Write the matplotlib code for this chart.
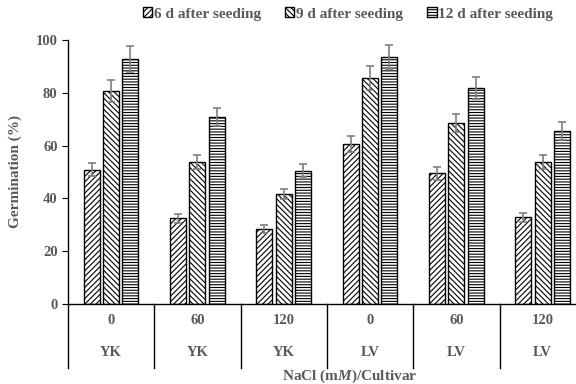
import matplotlib
matplotlib.use("Agg")
import matplotlib.pyplot as plt
import matplotlib.transforms as mtransforms
import numpy as np

plt.rcParams["font.family"] = ["Liberation Serif", "DejaVu Serif"]
plt.rcParams["font.weight"] = "bold"
plt.rcParams["axes.labelweight"] = "bold"
plt.rcParams["hatch.linewidth"] = 0.8
plt.rcParams["mathtext.fontset"] = "custom"
plt.rcParams["mathtext.it"] = "Liberation Serif:italic:bold"
plt.rcParams["mathtext.rm"] = "Liberation Serif:bold"

nacl = ["0", "60", "120", "0", "60", "120"]
cultivar = ["YK", "YK", "YK", "LV", "LV", "LV"]
series = ["6 d after seeding", "9 d after seeding", "12 d after seeding"]

d6 = [50.8, 32.5, 28.4, 60.7, 49.5, 32.8]
d9 = [80.7, 53.8, 41.5, 85.7, 68.6, 53.8]
d12 = [92.8, 70.8, 50.5, 93.7, 81.8, 65.6]
e6 = [2.5, 1.7, 1.4, 3.0, 2.5, 1.8]
e9 = [4.0, 2.8, 1.9, 4.5, 3.5, 2.6]
e12 = [4.8, 3.3, 2.5, 4.5, 4.0, 3.5]

txt = "#595959"
hatches = ["//////", "\\\\\\\\\\\\", "------"]

fig = plt.figure(figsize=(5.76, 3.84), dpi=100)
ax = fig.add_axes([68 / 576, 80 / 384, 508 / 576, 264 / 384])

x = np.arange(len(nacl))
w = 0.185
step = 0.224
handles = []
for i, (vals, errs) in enumerate([(d6, e6), (d9, e9), (d12, e12)]):
    b = ax.bar(x + (i - 1) * step, vals, w, color="white", edgecolor="black",
               linewidth=1.0, hatch=hatches[i], label=series[i], zorder=2)
    ax.errorbar(x + (i - 1) * step, vals, yerr=errs, fmt="none", ecolor="#7f7f7f",
                elinewidth=1.2, capsize=3, capthick=1.2, zorder=3)
    handles.append(b)

ax.set_ylim(0, 100)
ax.set_xlim(-0.5, -0.5 + 508 / 86.3)
ax.set_yticks(range(0, 101, 20))
ax.tick_params(axis="y", direction="out", length=4, colors="black", labelcolor=txt, labelsize=10.5)
ax.set_xticks([])
for s in ["top", "right"]:
    ax.spines[s].set_visible(False)
ax.spines["left"].set_linewidth(1.0)
ax.spines["bottom"].set_linewidth(1.0)

ax.set_ylabel("Germination (%)", color=txt, fontsize=11, labelpad=10)

# category axis below plot
trans = mtransforms.blended_transform_factory(ax.transData, ax.transAxes)
for k in range(len(nacl) + 1):
    ax.plot([k - 0.5, k - 0.5], [0, -64 / 264], transform=trans, color="black",
            linewidth=1.0, clip_on=False)
for k in range(len(nacl)):
    ax.text(k, -16 / 264, nacl[k], transform=trans, ha="center", va="center",
            color=txt, fontsize=10.5)
    ax.text(k, -48 / 264, cultivar[k], transform=trans, ha="center", va="center",
            color=txt, fontsize=10.5)

fig.text(350 / 576, 8 / 384, "NaCl (m$\\it{M}$)/Cultivar", ha="center", va="center",
         color=txt, fontsize=11)

leg = fig.legend(handles=handles, loc="center", bbox_to_anchor=(348 / 576, 1 - 14 / 384),
                 ncol=3, frameon=False, fontsize=11, handlelength=0.6, handleheight=0.6,
                 handletextpad=0.1, columnspacing=1.6)
for t in leg.get_texts():
    t.set_color(txt)

fig.savefig("out.png", dpi=100)
